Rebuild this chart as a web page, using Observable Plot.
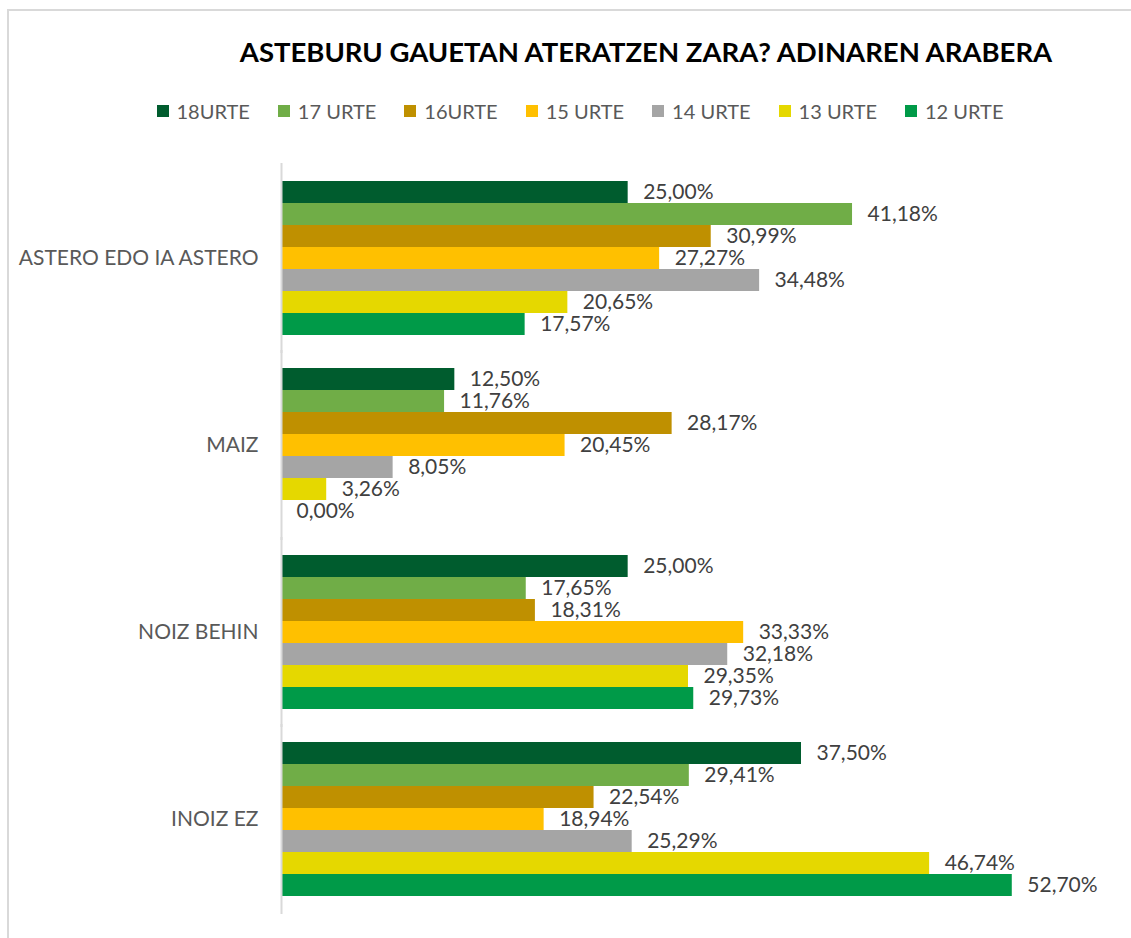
<!DOCTYPE html>
<html>
<head>
<meta charset="utf-8">
<script src="https://cdn.jsdelivr.net/npm/d3@7"></script>
<script src="https://cdn.jsdelivr.net/npm/@observablehq/plot@0.6"></script>
<style>
  html, body { margin: 0; padding: 0; background: #fff; }
  #wrap { position: relative; width: 1131px; height: 938px; overflow: hidden; font-family: Lato, "Open Sans", sans-serif; }
  #border { position: absolute; left: 7px; top: 9px; width: 1140px; height: 960px; border: 2px solid #d9d9d9; box-sizing: border-box; }
  #title { position: absolute; left: 0; top: 34px; width: 1292px; text-align: center; font-weight: 700; font-size: 27.5px; color: #000; line-height: 36px; }
  #legend { position: absolute; left: 0; top: 99px; width: 1160px; display: flex; justify-content: center; gap: 28px; font-size: 20px; color: #595959; line-height: 24px; }
  .item { display: flex; align-items: center; }
  .sw { width: 12px; height: 12px; margin-right: 8px; }
  #chart { position: absolute; left: 0; top: 140px; }
</style>
</head>
<body>
<div id="wrap">
  <div id="border"></div>
  <div id="title"></div>
  <div id="legend"></div>
  <div id="chart"></div>
</div>
<script>
const title = "ASTEBURU GAUETAN ATERATZEN ZARA? ADINAREN ARABERA";
const categories = ["ASTERO EDO IA ASTERO", "MAIZ", "NOIZ BEHIN", "INOIZ EZ"];
const series = ["18URTE", "17 URTE", "16URTE", "15 URTE", "14 URTE", "13 URTE", "12 URTE"];
const colors = ["#005C2E", "#70AD47", "#BF9000", "#FFC000", "#A5A5A5", "#E5D800", "#009A48"];
const valuesAstero = [25.00, 41.18, 30.99, 27.27, 34.48, 20.65, 17.57];
const valuesMaiz = [12.50, 11.76, 28.17, 20.45, 8.05, 3.26, 0.00];
const valuesNoizBehin = [25.00, 17.65, 18.31, 33.33, 32.18, 29.35, 29.73];
const valuesInoizEz = [37.50, 29.41, 22.54, 18.94, 25.29, 46.74, 52.70];

const allValues = [valuesAstero, valuesMaiz, valuesNoizBehin, valuesInoizEz];
const data = [];
categories.forEach((c, i) => series.forEach((s, j) => data.push({cat: c, series: s, value: allValues[i][j]})));

const fmt = v => v.toFixed(2).replace(".", ",") + "%";

document.getElementById("title").textContent = title;
const legend = document.getElementById("legend");
series.forEach((s, j) => {
  const it = document.createElement("div");
  it.className = "item";
  const sw = document.createElement("span");
  sw.className = "sw";
  sw.style.background = colors[j];
  const t = document.createElement("span");
  t.textContent = s;
  it.appendChild(sw); it.appendChild(t);
  legend.appendChild(it);
});

const chart = Plot.plot({
  width: 1131,
  height: 798,
  marginLeft: 281,
  marginRight: 18,
  marginTop: 22,
  marginBottom: 23,
  style: {fontFamily: "Lato, 'Open Sans', sans-serif", color: "#595959", background: "transparent"},
  x: {domain: [0, 60], axis: null},
  y: {domain: series, axis: null, padding: 0},
  fy: {domain: categories, paddingInner: 0.177, paddingOuter: 0.093, label: null, axis: null},
  color: {domain: series, range: colors},
  marks: [
    Plot.barX(data, {x: "value", y: "series", fy: "cat", fill: "series"}),
    Plot.text(data, {x: "value", y: "series", fy: "cat", text: d => fmt(d.value), dx: 15, textAnchor: "start", fill: "#404040", fontSize: 21}),
    Plot.axisFy({anchor: "left", tickSize: 0, tickPadding: 23, fontSize: 21, label: null, fill: "#595959"}),
    Plot.ruleX([0], {stroke: "#d9d9d9", strokeWidth: 2, insetTop: -18, insetBottom: -18})
  ]
});
document.getElementById("chart").appendChild(chart);
</script>
</body>
</html>
